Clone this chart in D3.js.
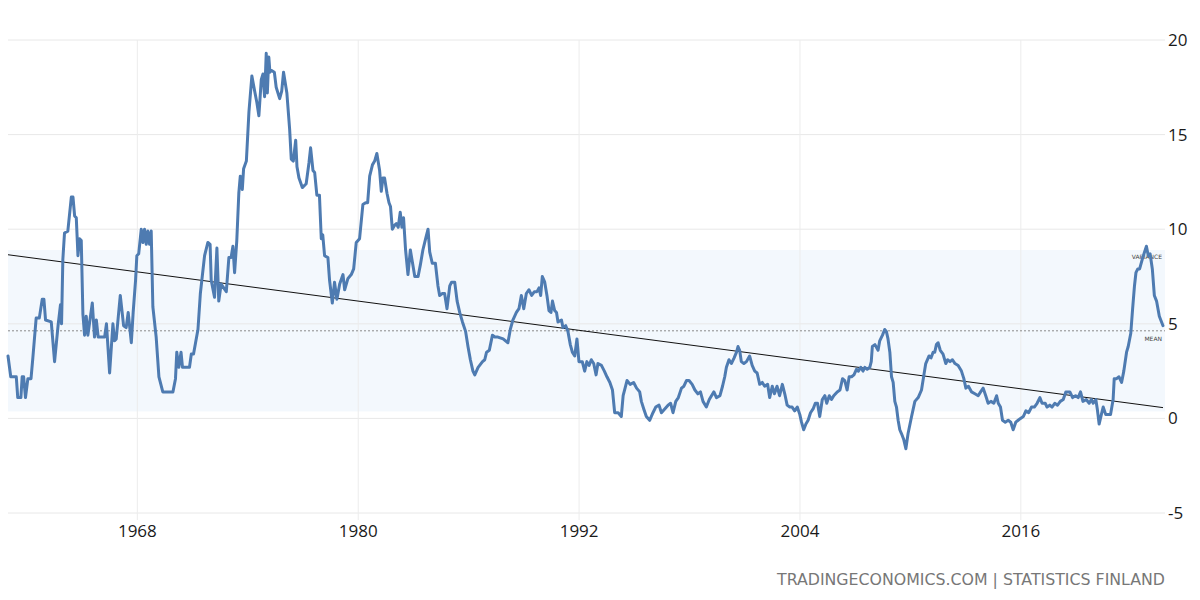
<!DOCTYPE html>
<html>
<head>
<meta charset="utf-8">
<script src="https://cdn.jsdelivr.net/npm/d3@7/dist/d3.min.js"></script>
<style>
  html, body { margin: 0; padding: 0; background: #ffffff; }
  svg { display: block; }
</style>
</head>
<body>
<svg id="chart" width="1200" height="600"></svg>
<script>
// ---- data ----
const dates = [
1961.00,1961.15,1961.45,1961.53,1961.70,1961.77,1961.85,1961.95,1962.08,1962.25,1962.35,1962.53,1962.70,1962.86,1962.95,
1963.04,1963.35,1963.53,1963.72,1963.85,1963.91,1963.98,1964.07,1964.25,1964.44,1964.53,1964.62,1964.71,1964.80,1964.89,1964.98,
1965.07,1965.16,1965.25,1965.34,1965.58,1965.70,1965.80,1965.90,1966.25,1966.35,1966.52,1966.70,1966.79,1966.88,
1967.10,1967.28,1967.42,1967.53,1967.70,1967.80,1967.93,1968.00,1968.10,1968.24,1968.33,1968.42,1968.51,1968.60,1968.69,1968.78,1968.87,
1969.05,1969.20,1969.41,1969.96,1970.10,1970.17,1970.28,1970.40,1970.48,1970.86,1970.96,1971.08,1971.19,1971.32,1971.45,1971.68,1971.86,1971.98,
1972.04,1972.22,1972.35,1972.45,1972.58,1972.86,1973.00,1973.12,1973.22,1973.31,1973.43,1973.54,1973.62,1973.73,1973.80,1973.95,
1974.09,1974.25,1974.40,1974.52,1974.63,1974.76,1974.85,1974.94,1975.03,1975.09,1975.17,1975.23,1975.30,1975.47,1975.57,1975.76,1975.87,1975.97,
1976.15,1976.30,1976.39,1976.50,1976.63,1976.70,1976.81,1976.99,1977.20,1977.35,1977.44,1977.57,1977.66,1977.78,1977.92,
1978.02,1978.10,1978.20,1978.38,1978.47,1978.62,1978.74,1978.87,1979.02,1979.20,1979.29,1979.47,1979.65,1979.78,1979.92,
1980.10,1980.28,1980.43,1980.54,1980.65,1980.80,1980.92,1981.04,1981.19,1981.28,1981.37,1981.46,1981.59,1981.70,1981.78,1981.88,
1982.00,1982.10,1982.20,1982.31,1982.40,1982.49,1982.60,1982.73,1982.86,1982.98,1983.10,1983.28,1983.40,1983.54,1983.69,1983.82,1983.91,
1984.05,1984.22,1984.36,1984.45,1984.60,1984.72,1984.85,1985.00,1985.10,1985.27,1985.40,1985.54,1985.69,1985.86,1985.99,
1986.12,1986.26,1986.36,1986.54,1986.78,1986.90,1987.00,1987.15,1987.32,1987.45,1987.62,1987.90,1988.16,1988.29,1988.43,1988.62,1988.76,1988.89,
1989.02,1989.16,1989.30,1989.45,1989.60,1989.74,1989.85,1989.94,1990.03,1990.16,1990.28,1990.39,1990.50,1990.58,1990.70,1990.80,1990.88,
1991.07,1991.15,1991.30,1991.42,1991.55,1991.66,1991.79,1991.91,1992.02,1992.20,1992.33,1992.45,1992.57,1992.69,1992.82,1992.95,
1993.05,1993.24,1993.40,1993.54,1993.70,1993.84,1993.96,1994.15,1994.32,1994.42,1994.63,1994.80,1994.99,
1995.15,1995.32,1995.41,1995.54,1995.68,1995.86,1996.04,1996.19,1996.37,1996.50,1996.68,1996.86,1997.00,1997.13,1997.28,1997.42,1997.59,1997.72,1997.86,
1998.00,1998.17,1998.32,1998.48,1998.62,1998.76,1998.94,1999.10,1999.22,1999.35,1999.49,1999.68,1999.82,1999.94,
2000.03,2000.17,2000.30,2000.45,2000.58,2000.66,2000.75,2000.84,2000.98,2001.12,2001.29,2001.43,2001.57,2001.70,2001.84,2001.98,
2002.11,2002.27,2002.38,2002.52,2002.64,2002.78,2002.92,2003.07,2003.20,2003.33,2003.47,2003.60,2003.74,2003.88,
2004.02,2004.11,2004.23,2004.35,2004.47,2004.60,2004.74,2004.86,2004.98,2005.10,2005.24,2005.38,2005.48,2005.62,2005.74,2005.86,
2006.05,2006.20,2006.34,2006.46,2006.59,2006.70,2006.83,2006.96,2007.10,2007.20,2007.33,2007.45,2007.55,2007.68,2007.82,2007.90,2007.96,
2008.10,2008.27,2008.36,2008.51,2008.63,2008.72,2008.81,2008.91,2009.00,2009.09,2009.18,2009.27,2009.36,2009.45,2009.54,2009.66,2009.78,2009.90,
2010.09,2010.27,2010.45,2010.63,2010.76,2010.86,2011.04,2011.15,2011.26,2011.35,2011.44,2011.53,2011.65,2011.80,2011.95,
2012.05,2012.18,2012.31,2012.45,2012.62,2012.80,2012.93,2013.04,2013.18,2013.35,2013.53,2013.71,2013.84,2013.98,
2014.12,2014.25,2014.40,2014.56,2014.71,2014.80,2014.92,2015.03,2015.18,2015.34,2015.48,2015.61,2015.75,2015.88,
2016.01,2016.16,2016.30,2016.45,2016.61,2016.76,2016.91,2017.06,2017.18,2017.35,2017.45,2017.60,2017.72,2017.87,
2018.02,2018.17,2018.33,2018.47,2018.58,2018.69,2018.84,2019.00,2019.14,2019.27,2019.40,2019.58,2019.74,2019.86,2019.96,
2020.10,2020.18,2020.28,2020.40,2020.50,2020.64,2020.90,2021.04,2021.10,2021.23,2021.36,2021.50,2021.62,2021.77,2021.86,
2022.00,2022.10,2022.20,2022.28,2022.38,2022.48,2022.65,2022.85,2022.95,2023.05,2023.17,2023.28,2023.40,2023.55,2023.75
];
const values = [
3.3,2.2,2.2,1.1,1.1,2.2,2.2,1.1,2.1,2.1,3.2,5.3,5.3,6.3,6.3,
5.2,5.1,3.0,4.9,6.0,5.0,8.4,9.8,9.9,11.7,11.7,10.7,10.6,8.6,9.5,9.4,
5.5,4.4,5.4,4.4,6.1,4.3,5.2,4.3,4.3,5.0,2.4,5.0,4.1,4.2,
6.5,4.9,4.8,5.6,4.0,5.6,7.3,8.6,8.7,10.0,9.3,10.0,9.2,9.9,9.2,9.9,5.9,
4.3,2.2,1.4,1.4,2.1,3.5,2.7,3.5,2.7,2.7,3.4,3.4,4.0,4.7,6.6,8.6,9.3,9.2,
7.3,6.4,9.0,6.2,7.1,6.7,8.5,8.5,9.1,7.7,9.4,11.9,12.8,12.1,13.2,13.6,
16.2,18.1,17.3,16.7,16.0,17.9,18.2,17.0,19.3,17.2,19.1,18.3,18.4,18.3,17.5,16.9,17.3,18.3,
17.2,15.3,13.7,13.6,14.7,13.3,12.7,12.2,12.4,13.5,14.3,13.1,13.0,11.8,11.8,
9.5,9.7,8.6,8.5,7.3,6.1,7.2,6.3,7.1,7.6,6.8,7.4,7.6,7.9,9.3,
9.5,11.3,11.4,11.4,12.8,13.4,13.6,14.0,13.1,12.0,12.7,12.7,11.9,11.4,11.2,10.0,
10.2,10.3,10.1,10.9,10.1,10.6,8.9,7.6,8.9,8.2,7.5,7.5,8.1,8.9,9.5,10.0,8.8,
8.2,8.2,7.0,6.5,6.6,6.6,5.8,7.0,7.2,7.2,6.2,5.6,5.1,4.6,3.8,
3.1,2.5,2.3,2.7,3.0,3.1,3.5,3.6,4.4,4.3,4.3,4.2,4.0,4.7,5.2,5.6,5.8,6.5,
5.8,6.6,6.8,6.5,6.7,6.7,6.9,6.5,7.5,7.2,6.5,5.7,5.6,6.2,5.7,5.6,5.1,
5.2,4.8,4.9,4.6,3.9,3.5,3.3,4.2,3.0,3.0,2.5,3.0,2.8,3.1,2.9,2.3,
2.9,2.8,2.5,2.2,1.9,1.5,0.3,0.3,0.1,1.2,2.0,1.8,1.9,
1.6,1.4,0.9,0.5,0.1,-0.1,0.3,0.6,0.7,0.3,0.5,0.7,0.8,0.3,0.9,1.1,1.6,1.7,2.0,
2.0,1.8,1.5,1.3,1.4,0.9,0.6,1.0,1.2,1.4,1.1,1.2,1.7,2.2,
2.7,3.1,2.9,3.2,3.5,3.8,3.6,3.0,2.9,3.0,3.3,2.8,2.5,2.4,1.8,1.9,
1.7,1.8,1.1,1.7,1.3,1.7,1.2,1.8,1.3,0.7,0.6,0.6,0.4,0.6,
0.2,-0.2,-0.6,-0.3,-0.1,0.3,0.5,0.8,0.8,0.1,1.0,1.2,0.8,1.2,1.0,1.2,
1.4,1.5,2.1,2.0,1.5,2.2,2.2,2.3,2.6,2.5,2.7,2.5,2.7,2.6,2.7,3.0,3.8,
3.9,3.6,4.1,4.4,4.7,4.6,4.2,3.5,2.2,1.9,0.9,0.6,-0.1,-0.6,-0.8,-1.1,-1.6,-0.8,
0.1,0.9,1.1,1.5,2.3,2.9,3.3,3.2,3.5,3.5,3.9,4.0,3.6,3.4,2.9,
3.1,3.0,3.1,2.9,2.8,2.5,2.1,1.6,1.7,1.4,1.3,1.2,1.4,1.6,
1.2,0.8,0.9,0.8,1.2,0.8,0.6,-0.1,-0.2,-0.1,-0.2,-0.6,-0.2,-0.1,
0.0,0.1,0.4,0.3,0.6,0.6,0.8,1.1,0.8,0.8,0.6,0.7,0.6,0.8,
0.7,0.9,1.0,1.4,1.4,1.4,1.1,1.2,1.1,1.4,0.9,1.0,0.8,1.0,0.8,
1.0,0.5,-0.3,0.2,0.6,0.2,0.2,1.0,2.1,2.1,2.2,1.9,2.5,3.5,3.8,
4.5,5.8,7.0,7.7,7.9,7.9,8.5,9.1,8.6,8.7,7.9,6.5,6.2,5.4,4.9
];
const xTickValues = [1968, 1980, 1992, 2004, 2016];
const yTickValues = [-5, 0, 5, 10, 15, 20];
const meanValue = 4.63;
const varianceBand = [0.37, 8.9];
const trendValues = [8.65, 0.57];   // trend line at start and end of the series
const sourceText = "TRADINGECONOMICS.COM | STATISTICS FINLAND";

// ---- layout ----
const svg = d3.select("#chart");
const plotLeft = 8, plotRight = 1163, plotTop = 40, plotBottom = 513;
const gridRight = 1165;

const x = d3.scaleLinear().domain([dates[0], dates[dates.length - 1]]).range([plotLeft, plotRight]);
const y = d3.scaleLinear().domain([-5, 20]).range([plotBottom, plotTop]);

const n = Math.min(dates.length, values.length);
const series = dates.slice(0, n).map((d, i) => ({ t: d, v: values[i] }));

// variance band
svg.append("rect")
  .attr("x", plotLeft).attr("width", gridRight - plotLeft)
  .attr("y", y(varianceBand[1]))
  .attr("height", y(varianceBand[0]) - y(varianceBand[1]))
  .attr("fill", "#f3f8fd");

// horizontal gridlines
svg.append("g").selectAll("line").data(yTickValues).join("line")
  .attr("x1", plotLeft).attr("x2", gridRight)
  .attr("y1", d => y(d)).attr("y2", d => y(d))
  .attr("stroke", "#e8e8e8").attr("stroke-width", 1);

// x axis with vertical gridlines
const xAxis = d3.axisBottom(x).tickValues(xTickValues).tickFormat(d => String(d))
  .tickSizeInner(7).tickSizeOuter(0);
const gx = svg.append("g").attr("transform", `translate(0,${plotBottom})`).call(xAxis);
gx.select(".domain").remove();
gx.selectAll(".tick line").attr("stroke", "#ececec").attr("y1", -(plotBottom - plotTop)).attr("y2", 7);
gx.selectAll(".tick text")
  .attr("y", 24).attr("dy", 0)
  .attr("fill", "#1a1a1a").attr("font-size", "17px")
  .attr("font-family", "'Open Sans', 'Noto Sans', sans-serif");

// y axis on the right
const yAxis = d3.axisRight(y).tickValues(yTickValues).tickFormat(d => String(d)).tickSize(0).tickPadding(3);
const gy = svg.append("g").attr("transform", `translate(${gridRight},0)`).call(yAxis);
gy.select(".domain").remove();
gy.selectAll(".tick text")
  .attr("fill", "#1a1a1a").attr("font-size", "17px")
  .attr("font-family", "'Open Sans', 'Noto Sans', sans-serif");

// mean line
svg.append("line")
  .attr("x1", plotLeft).attr("x2", gridRight)
  .attr("y1", y(meanValue)).attr("y2", y(meanValue))
  .attr("stroke", "#8a8a8a").attr("stroke-width", 1).attr("stroke-dasharray", "2,2");

// trend line
svg.append("line")
  .attr("x1", x(dates[0])).attr("x2", x(dates[n - 1]))
  .attr("y1", y(trendValues[0])).attr("y2", y(trendValues[1]))
  .attr("stroke", "#111").attr("stroke-width", 1);

// small labels
svg.append("text").attr("x", 1162).attr("y", y(meanValue) + 10)
  .attr("text-anchor", "end").attr("font-size", "6px").attr("fill", "#444")
  .attr("font-family", "'DejaVu Sans', sans-serif").text("MEAN");
svg.append("text").attr("x", 1162).attr("y", y(varianceBand[1]) + 9)
  .attr("text-anchor", "end").attr("font-size", "6px").attr("fill", "#444")
  .attr("font-family", "'DejaVu Sans', sans-serif").text("VARIANCE");

// main series
const line = d3.line().x(d => x(d.t)).y(d => y(d.v)).curve(d3.curveLinear);
svg.append("path").datum(series)
  .attr("d", line)
  .attr("fill", "none")
  .attr("stroke", "#4e7bb1")
  .attr("stroke-width", 3)
  .attr("stroke-linejoin", "round")
  .attr("stroke-linecap", "round");

// source
svg.append("text")
  .attr("x", 1165).attr("y", 585)
  .attr("text-anchor", "end")
  .attr("font-size", "16px")
  .attr("fill", "#777")
  .attr("font-family", "'DejaVu Sans', 'Open Sans', sans-serif")
  .attr("textLength", 388).attr("lengthAdjust", "spacingAndGlyphs")
  .text(sourceText);
</script>
</body>
</html>
